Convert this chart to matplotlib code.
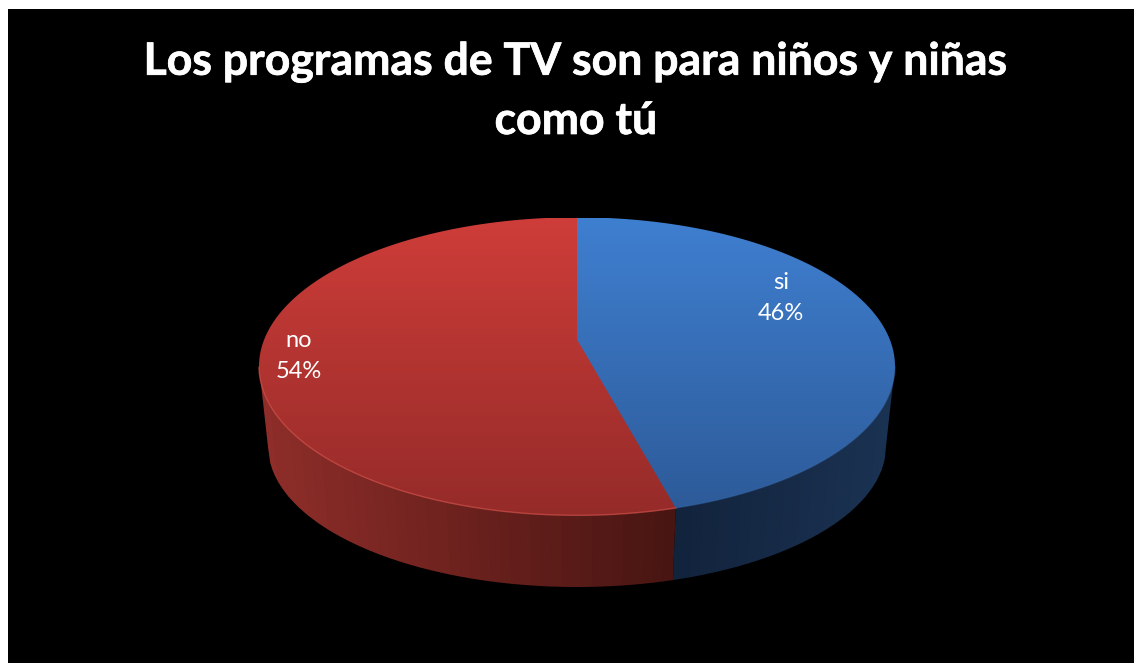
import numpy as np
import matplotlib
matplotlib.use('Agg')
import matplotlib.pyplot as plt
import matplotlib.patheffects as pe
from matplotlib.patches import Polygon, Rectangle
from matplotlib.colors import LinearSegmentedColormap

# Data (shares read from the slice edge, labels show them rounded)
categories = ['si', 'no']
percent = [45.8, 54.2]
title_lines = ['Los programas de TV son para niños y niñas', 'como tú']
top_colors = [('#3F7FD0', '#2D5A98'), ('#CE3D39', '#952B29')]
wall_colors = [('#12233C', '#1A3252'), ('#8E2D29', '#481512')]
rim_colors = ['#3A70B4', '#D0504A']

W, H = 1134, 663
fig = plt.figure(figsize=(W / 100, H / 100), dpi=100, facecolor='white')
ax = fig.add_axes([0, 0, 1, 1])
ax.set_xlim(0, W)
ax.set_ylim(H, 0)
ax.axis('off')
ax.add_patch(Rectangle((8, 9), W - 8, H - 9, fc='black', ec='none', zorder=0))

# Pie geometry in pixels, with the perspective of the original 3D chart
cx, cy = 577, 366.5
k = 0.18
a, b = 312.8, 144.2
pivot_dy = -27
rx = a / np.sqrt(1 - k ** 2)
depth_cy, depth_rx, depth_ry = 446, 309, 141
th_side = np.arccos(-k)


def rim(theta):
    u, v = np.sin(theta), np.cos(theta)
    w = 1 + k * v
    return cx + a * u / w, cy + pivot_dy - b * v / w


def floor(x):
    # lower outline of the wall for a given x
    t = np.clip((x - cx) / depth_rx, -1, 1)
    return depth_cy + depth_ry * np.sqrt(1 - t ** 2)


def gradient(c1, c2):
    return LinearSegmentedColormap.from_list('g', [c1, c2])


# slice angles, clockwise from the top
edges = 2 * np.pi * np.cumsum([0] + percent) / sum(percent)

# side wall, drawn as thin strips along the front of the pie
for i in range(len(percent)):
    th = np.linspace(edges[i], edges[i + 1], 400)
    if i == 0:
        keep = th >= th_side
    else:
        keep = th <= 2 * np.pi - th_side
    x, y = rim(th[keep])
    order = np.argsort(x)
    x, y = x[order], y[order]
    cmap = gradient(*wall_colors[i])
    n = 40
    bins = np.linspace(x.min(), x.max(), n + 1)
    for j in range(n):
        xs = np.linspace(bins[j], min(bins[j + 1] + 0.8, x.max()), 6)
        ys = np.interp(xs, x, y) - 1
        xb = cx + (xs - cx) * depth_rx / rx
        yb = floor(xb)
        pts = list(zip(xs, ys)) + list(zip(xb[::-1], yb[::-1]))
        ax.add_patch(Polygon(pts, closed=True, fc=cmap(j / (n - 1)), ec='none', zorder=2))

# top face with a vertical gradient
for i in range(len(percent)):
    th = np.linspace(edges[i], edges[i + 1], 400)
    x, y = rim(th)
    pts = [(cx, cy + pivot_dy)] + list(zip(x, y))
    # blue runs a little under the red so no seam shows between them
    if i == 0:
        pts = [(cx - 3, y[0] + 1)] + list(zip(x, y)) + [(x[-1] - 3, y[-1] - 1), (cx - 3, cy + pivot_dy)]
    poly = Polygon(pts, closed=True, fc='none', ec='none', zorder=3 + i * 0.1)
    ax.add_patch(poly)
    grad = np.linspace(0, 1, 256).reshape(-1, 1)
    im = ax.imshow(grad, cmap=gradient(*top_colors[i]), extent=[250, 900, 515, 218],
                   aspect='auto', zorder=3 + i * 0.1, interpolation='bilinear')
    im.set_clip_path(poly)
    front = (th > th_side) & (th < 2 * np.pi - th_side)
    ax.plot(x[front], y[front], color=rim_colors[i], lw=1.0, zorder=4,
            alpha=0.35 if i == 0 else 0.7)
ax.set_xlim(0, W)
ax.set_ylim(H, 0)

# Text
plt.rcParams['font.family'] = ['Lato', 'DejaVu Sans']
stroke = [pe.withStroke(linewidth=0.5, foreground='white')]
ax.text(576, 62, title_lines[0], color='white', fontsize=32.1, fontweight='bold',
        ha='center', va='center', zorder=5, path_effects=stroke)
ax.text(576, 121, title_lines[1], color='white', fontsize=32.1, fontweight='bold',
        ha='center', va='center', zorder=5, path_effects=stroke)
label_pos = [(781, 298), (299, 356)]
for name, p, (lx, ly) in zip(categories, percent, label_pos):
    ax.text(lx, ly, f'{name}\n{round(p)}%', color='white', fontsize=17, ha='center', va='center',
            linespacing=1.6, zorder=5)

fig.savefig('out.png', dpi=100, facecolor='white')
